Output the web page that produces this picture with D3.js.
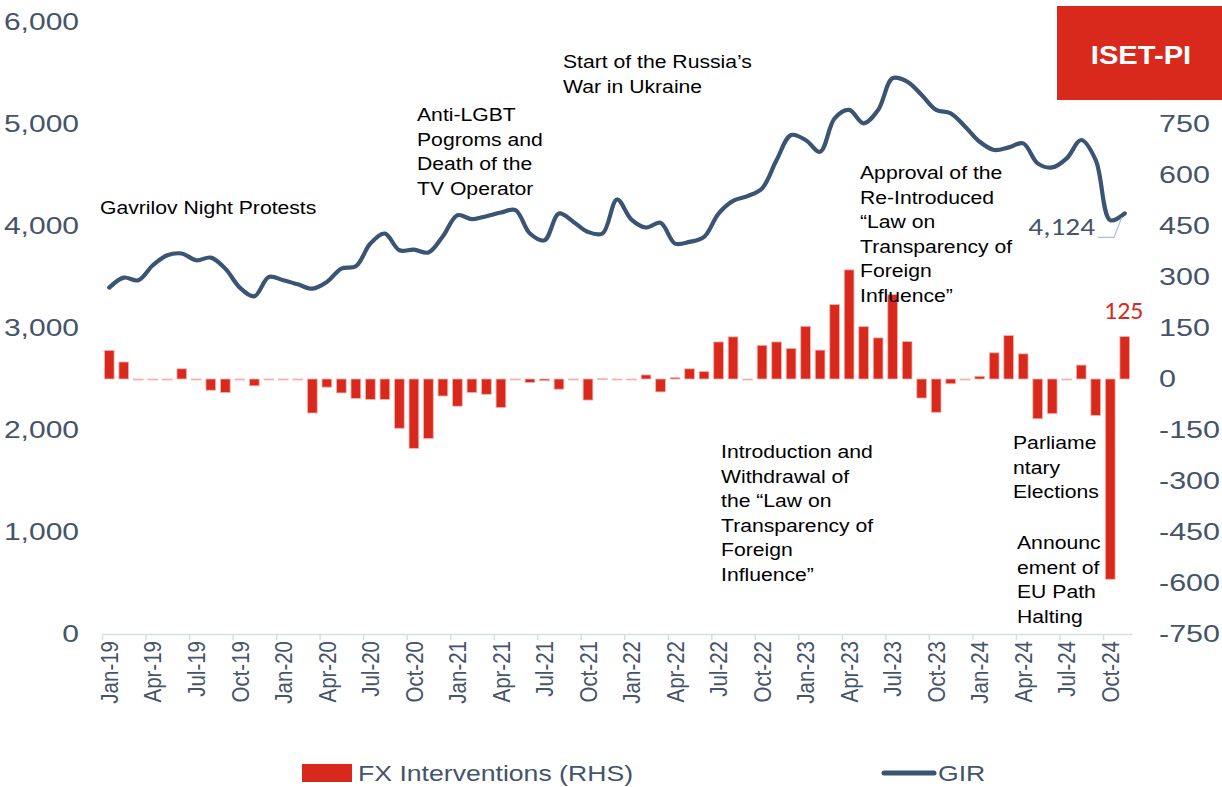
<!DOCTYPE html>
<html>
<head>
<meta charset="utf-8">
<script src="https://cdn.jsdelivr.net/npm/d3@7"></script>
<style>
  body { margin: 0; background: #fff; }
  svg text { font-family: "Liberation Sans", Arial, sans-serif; }
</style>
</head>
<body>
<svg id="chart" width="1222" height="787"></svg>
<script>
// monthly data, Jan-19 .. Nov-24
let months = [];
let monthNames = ["Jan","Feb","Mar","Apr","May","Jun","Jul","Aug","Sep","Oct","Nov","Dec"];
for (let yr = 19; yr <= 24; yr++) {
    for (let m = 0; m < 12; m++) {
        if (yr === 24 && m === 11) break;
        months.push(monthNames[m] + "-" + yr);
    }
}

// FX interventions (RHS, mln USD)
let fx = [
    84, 50, 0, 0, 0, 30, 0, -33, -40, 0, -20, 0,
    0, 0, -100, -24, -41, -57, -60, -60, -145, -204, -175, -50,
    -80, -40, -45, -84, 0, -10, -5, -30, 0, -62, 1, -1,
    -1, 12, -38, 4, 30, 22, 109, 124, -3, 99, 109, 90,
    155, 85, 219, 321, 154, 121, 248, 110, -56, -98, -14, -1,
    8, 77, 128, 74, -117, -102, -2, 41, -107, -589, 125
];

// GIR (LHS, mln USD)
let gir = [
    3396, 3494, 3468, 3615, 3713, 3730, 3664, 3690, 3582, 3396, 3310, 3500,
    3468, 3428, 3386, 3451, 3582, 3605, 3828, 3926, 3762, 3769, 3740, 3900,
    4106, 4067, 4096, 4132, 4155, 3926, 3860, 4122, 4040, 3942, 3926, 4260,
    4063, 3985, 4031, 3828, 3844, 3893, 4122, 4247, 4293, 4368, 4646, 4892,
    4843, 4728, 5056, 5138, 5007, 5138, 5449, 5416, 5285, 5138, 5105, 4974,
    4826, 4745, 4771, 4810, 4614, 4574, 4663, 4843, 4646, 4057, 4124
];

let leftTicks = [0, 1000, 2000, 3000, 4000, 5000, 6000];
let rightTicks = [-750, -600, -450, -300, -150, 0, 150, 300, 450, 600, 750];
let tickMonths = months.filter(function(d, i) { return i % 3 === 0; });

let annotations = [
    {x: 100, y: 208, lines: ["Gavrilov Night Protests"]},
    {x: 417, y: 115, lines: ["Anti-LGBT", "Pogroms and", "Death of the", "TV Operator"]},
    {x: 563, y: 62, lines: ["Start of the Russia\u2019s", "War in Ukraine"]},
    {x: 860, y: 173, lines: ["Approval of the", "Re-Introduced", "\u201CLaw on", "Transparency of", "Foreign", "Influence\u201D"]},
    {x: 721, y: 452, lines: ["Introduction and", "Withdrawal of", "the \u201CLaw on", "Transparency of", "Foreign", "Influence\u201D"]},
    {x: 1013, y: 443, lines: ["Parliame", "ntary", "Elections"]},
    {x: 1017, y: 543, lines: ["Announc", "ement of", "EU Path", "Halting"]}
];

let barColor = "#d9291c";
let lineColor = "#3a5474";
let axisText = "#44546a";
let stretch = 1.21; // the original picture is a bit wider than tall

let svg = d3.select("#chart");

let x = d3.scaleBand()
    .domain(months)
    .range([102, 1132])
    .paddingInner(0.33)
    .paddingOuter(0.165);

let yL = d3.scaleLinear().domain([0, 6000]).range([634, 22]);
let yR = d3.scaleLinear().domain([-750, 1050]).range([634, 22]);

// left axis labels
svg.append("g")
    .attr("transform", "translate(79,0)")
    .call(d3.axisLeft(yL).tickValues(leftTicks).tickSize(0).tickPadding(0).tickFormat(d3.format(",")))
    .call(function(g) { g.select(".domain").remove(); })
    .selectAll("text")
    .style("font-size", "24px")
    .attr("transform", "scale(1.25,1)")
    .attr("fill", axisText);

// right axis labels
svg.append("g")
    .attr("transform", "translate(1159,0)")
    .call(d3.axisRight(yR).tickValues(rightTicks).tickSize(0).tickPadding(0).tickFormat(function(d) { return String(d); }))
    .call(function(g) { g.select(".domain").remove(); })
    .selectAll("text")
    .style("font-size", "24px")
    .attr("transform", "scale(1.27,1)")
    .attr("fill", axisText);

// bars
svg.append("g")
    .selectAll("rect")
    .data(fx)
    .join("rect")
    .attr("x", function(d, i) { return x(months[i]); })
    .attr("width", x.bandwidth())
    .attr("y", function(d) { return yR(Math.max(0, d)); })
    .attr("height", function(d) { return Math.max(1, Math.abs(yR(d) - yR(0))); })
    .attr("fill", function(d) { return Math.abs(d) < 4 ? "#f2a19b" : barColor; })
    .attr("stroke", "#f6b4ae")
    .attr("stroke-width", 0.8);

// x axis, tick marks sit on the month boundaries
let xAxis = svg.append("g")
    .attr("transform", "translate(0,634)")
    .call(d3.axisBottom(x).tickValues(tickMonths).tickSize(6).tickSizeOuter(0));
xAxis.select(".domain").attr("stroke", "#d6dfe9").attr("stroke-width", 1.5);
xAxis.selectAll(".tick line")
    .attr("stroke", "#d6dfe9")
    .attr("stroke-width", 1.5)
    .attr("x1", -x.step() / 2 + 0.5)
    .attr("x2", -x.step() / 2 + 0.5);
xAxis.selectAll(".tick text")
    .style("font-size", "20.5px")
    .attr("fill", axisText)
    .attr("text-anchor", "end")
    .attr("transform", "rotate(-90) scale(1," + stretch + ")")
    .attr("x", -7)
    .attr("y", 0)
    .attr("dy", "0.35em");

// GIR line
let line = d3.line()
    .x(function(d, i) { return x(months[i]) + x.bandwidth() / 2; })
    .y(function(d) { return yL(d); })
    .curve(d3.curveCatmullRom.alpha(0.5));

svg.append("path")
    .datum(gir)
    .attr("d", line)
    .attr("fill", "none")
    .attr("stroke", lineColor)
    .attr("stroke-width", 4.2)
    .attr("stroke-linejoin", "round")
    .attr("stroke-linecap", "round");

// annotations
annotations.forEach(function(a) {
    let t = svg.append("g")
        .attr("transform", "translate(" + a.x + "," + a.y + ") scale(" + stretch + ",1)")
        .append("text")
        .style("font-size", "17.5px")
        .attr("fill", "#000");
    t.selectAll("tspan")
        .data(a.lines)
        .join("tspan")
        .attr("x", 0)
        .attr("dy", function(d, i) { return i === 0 ? "0.35em" : "24.5px"; })
        .text(function(d) { return d; });
});

// data labels for last values
let lastI = months.length - 1;
let lastX = x(months[lastI]) + x.bandwidth() / 2;
svg.append("path")
    .attr("d", "M1098," + (yL(gir[lastI]) + 24) + "H1114L" + (lastX - 3) + "," + (yL(gir[lastI]) + 4))
    .attr("fill", "none")
    .attr("stroke", "#a9bfd8")
    .attr("stroke-width", 1.2);
svg.append("g")
    .attr("transform", "translate(1095," + (yL(gir[lastI]) + 22) + ") scale(1.22,1)")
    .append("text")
    .attr("text-anchor", "end")
    .style("font-family", "Carlito, 'Liberation Sans', sans-serif")
    .style("font-size", "24px")
    .attr("fill", axisText)
    .text(d3.format(",")(gir[lastI]));
svg.append("g")
    .attr("transform", "translate(" + (lastX - 1) + "," + (yR(fx[lastI]) - 18) + ") scale(1.08,1)")
    .append("text")
    .attr("text-anchor", "middle")
    .style("font-family", "Carlito, 'Liberation Sans', sans-serif")
    .style("font-size", "24px")
    .attr("fill", barColor)
    .text(fx[lastI]);

// ISET-PI badge
svg.append("rect")
    .attr("x", 1057).attr("y", 6)
    .attr("width", 165).attr("height", 94)
    .attr("fill", barColor);
svg.append("g")
    .attr("transform", "translate(1141,55) scale(1.12,1)")
    .append("text")
    .attr("text-anchor", "middle")
    .attr("dy", "0.35em")
    .style("font-size", "26px")
    .style("font-weight", "bold")
    .attr("fill", "#fff")
    .text("ISET-PI");

// legend
let legend = svg.append("g");
legend.append("rect")
    .attr("x", 302).attr("y", 764)
    .attr("width", 50).attr("height", 18)
    .attr("fill", barColor);
legend.append("g")
    .attr("transform", "translate(358,773) scale(" + stretch + ",1)")
    .append("text")
    .attr("dy", "0.35em")
    .style("font-size", "22px")
    .attr("fill", axisText)
    .text("FX Interventions (RHS)");
legend.append("line")
    .attr("x1", 884).attr("x2", 934)
    .attr("y1", 773).attr("y2", 773)
    .attr("stroke", lineColor)
    .attr("stroke-width", 5)
    .attr("stroke-linecap", "round");
legend.append("g")
    .attr("transform", "translate(938,773) scale(" + stretch + ",1)")
    .append("text")
    .attr("dy", "0.35em")
    .style("font-size", "22px")
    .attr("fill", axisText)
    .text("GIR");
</script>
</body>
</html>
